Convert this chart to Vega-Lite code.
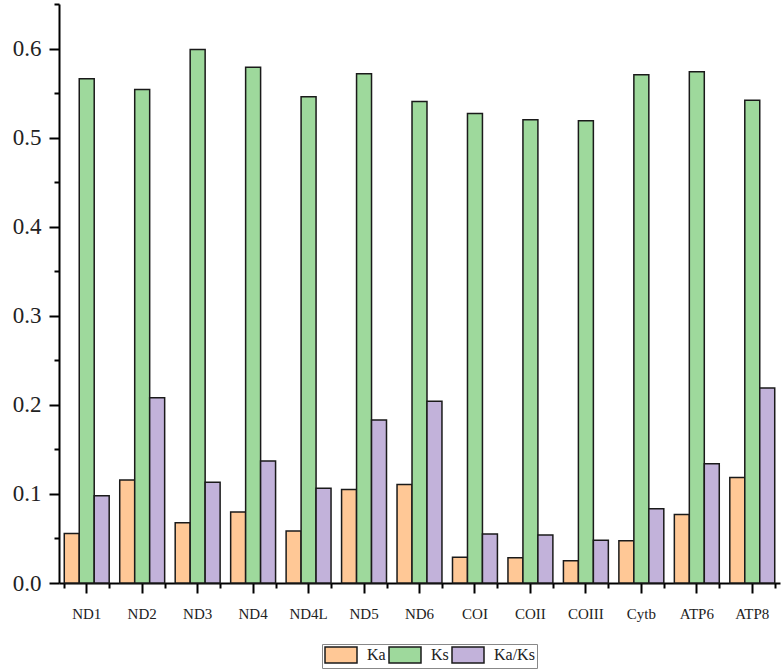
{
  "$schema": "https://vega.github.io/schema/vega-lite/v6.json",
  "width": 721,
  "height": 579,
  "autosize": {"type": "none"},
  "padding": {"left": 59, "top": 4, "right": 2, "bottom": 86},
  "background": "white",
  "config": {
    "view": {"stroke": null},
    "font": "Liberation Serif"
  },
  "data": {
    "values": [
      {"gene": "ND1", "metric": "Ka", "value": 0.0557},
      {"gene": "ND1", "metric": "Ks", "value": 0.566},
      {"gene": "ND1", "metric": "Ka/Ks", "value": 0.098},
      {"gene": "ND2", "metric": "Ka", "value": 0.1155},
      {"gene": "ND2", "metric": "Ks", "value": 0.554},
      {"gene": "ND2", "metric": "Ka/Ks", "value": 0.208},
      {"gene": "ND3", "metric": "Ka", "value": 0.0676},
      {"gene": "ND3", "metric": "Ks", "value": 0.599},
      {"gene": "ND3", "metric": "Ka/Ks", "value": 0.113},
      {"gene": "ND4", "metric": "Ka", "value": 0.0796},
      {"gene": "ND4", "metric": "Ks", "value": 0.579},
      {"gene": "ND4", "metric": "Ka/Ks", "value": 0.137},
      {"gene": "ND4L", "metric": "Ka", "value": 0.0583},
      {"gene": "ND4L", "metric": "Ks", "value": 0.546},
      {"gene": "ND4L", "metric": "Ka/Ks", "value": 0.1065},
      {"gene": "ND5", "metric": "Ka", "value": 0.105},
      {"gene": "ND5", "metric": "Ks", "value": 0.5716},
      {"gene": "ND5", "metric": "Ka/Ks", "value": 0.183},
      {"gene": "ND6", "metric": "Ka", "value": 0.1107},
      {"gene": "ND6", "metric": "Ks", "value": 0.5405},
      {"gene": "ND6", "metric": "Ka/Ks", "value": 0.204},
      {"gene": "COI", "metric": "Ka", "value": 0.0288},
      {"gene": "COI", "metric": "Ks", "value": 0.527},
      {"gene": "COI", "metric": "Ka/Ks", "value": 0.055},
      {"gene": "COII", "metric": "Ka", "value": 0.0284},
      {"gene": "COII", "metric": "Ks", "value": 0.52},
      {"gene": "COII", "metric": "Ka/Ks", "value": 0.0538},
      {"gene": "COIII", "metric": "Ka", "value": 0.025},
      {"gene": "COIII", "metric": "Ks", "value": 0.519},
      {"gene": "COIII", "metric": "Ka/Ks", "value": 0.048},
      {"gene": "Cytb", "metric": "Ka", "value": 0.0475},
      {"gene": "Cytb", "metric": "Ks", "value": 0.5705},
      {"gene": "Cytb", "metric": "Ka/Ks", "value": 0.0834},
      {"gene": "ATP6", "metric": "Ka", "value": 0.077},
      {"gene": "ATP6", "metric": "Ks", "value": 0.574},
      {"gene": "ATP6", "metric": "Ka/Ks", "value": 0.134},
      {"gene": "ATP8", "metric": "Ka", "value": 0.1185},
      {"gene": "ATP8", "metric": "Ks", "value": 0.542},
      {"gene": "ATP8", "metric": "Ka/Ks", "value": 0.219}
    ]
  },
  "encoding": {
    "x": {
      "field": "gene",
      "type": "nominal",
      "sort": null,
      "scale": {"paddingInner": 0.19, "paddingOuter": 0.095}
    },
    "xOffset": {
      "field": "metric",
      "type": "nominal",
      "sort": ["Ka", "Ks", "Ka/Ks"],
      "scale": {"paddingInner": 0, "paddingOuter": 0}
    },
    "y": {
      "field": "value",
      "type": "quantitative",
      "scale": {"domain": [0, 0.65], "nice": false, "zero": true}
    }
  },
  "layer": [
    {
      "mark": {"type": "bar", "stroke": "#1a1a1a", "strokeWidth": 1.5},
      "encoding": {
        "x": {
          "field": "gene",
          "type": "nominal",
          "sort": null,
          "axis": {
            "title": null,
            "orient": "bottom",
            "labelAngle": 0,
            "labelFont": "Liberation Serif",
            "labelFontSize": 15,
            "labelColor": "#222",
            "labelPadding": 13,
            "domainColor": "black",
            "domainWidth": 2,
            "tickColor": "black",
            "tickWidth": 2,
            "tickSize": 10
          }
        },
        "y": {
          "field": "value",
          "type": "quantitative",
          "axis": {
            "title": null,
            "orient": "left",
            "values": [0, 0.1, 0.2, 0.3, 0.4, 0.5, 0.6],
            "format": ".1f",
            "grid": false,
            "labelFont": "Liberation Serif",
            "labelFontSize": 23,
            "labelColor": "#222",
            "labelPadding": 8,
            "domainColor": "black",
            "domainWidth": 2,
            "tickColor": "black",
            "tickWidth": 2,
            "tickSize": 10
          }
        },
        "color": {
          "field": "metric",
          "type": "nominal",
          "sort": ["Ka", "Ks", "Ka/Ks"],
          "scale": {
            "domain": ["Ka", "Ks", "Ka/Ks"],
            "range": ["#FFC896", "#9ED99C", "#C2B2DA"]
          },
          "legend": {
            "title": null,
            "orient": "none",
            "direction": "horizontal",
            "legendX": 263,
            "legendY": 640,
            "symbolType": "M-2,-1H2V1H-2Z",
            "symbolSize": 256,
            "symbolOffset": 8,
            "symbolStrokeColor": "#1a1a1a",
            "symbolStrokeWidth": 1.5,
            "symbolOpacity": 1,
            "labelFont": "Liberation Serif",
            "labelFontSize": 16,
            "labelColor": "#222",
            "labelOffset": 17,
            "columnPadding": 0,
            "padding": 2,
            "strokeColor": "#888",
            "fillColor": "white"
          }
        }
      }
    },
    {
      "mark": {"type": "bar", "opacity": 0},
      "encoding": {
        "x": {
          "field": "gene",
          "type": "nominal",
          "sort": null,
          "axis": {
            "title": null,
            "orient": "bottom",
            "labels": false,
            "domain": false,
            "tickBand": "extent",
            "tickColor": "black",
            "tickWidth": 2,
            "tickSize": 5
          }
        },
        "y": {
          "field": "value",
          "type": "quantitative",
          "axis": {
            "title": null,
            "orient": "left",
            "values": [0.05, 0.15, 0.25, 0.35, 0.45, 0.55, 0.65],
            "labels": false,
            "domain": false,
            "grid": false,
            "tickColor": "black",
            "tickWidth": 2,
            "tickSize": 5
          }
        }
      }
    }
  ],
  "resolve": {"axis": {"x": "independent", "y": "independent"}}
}
